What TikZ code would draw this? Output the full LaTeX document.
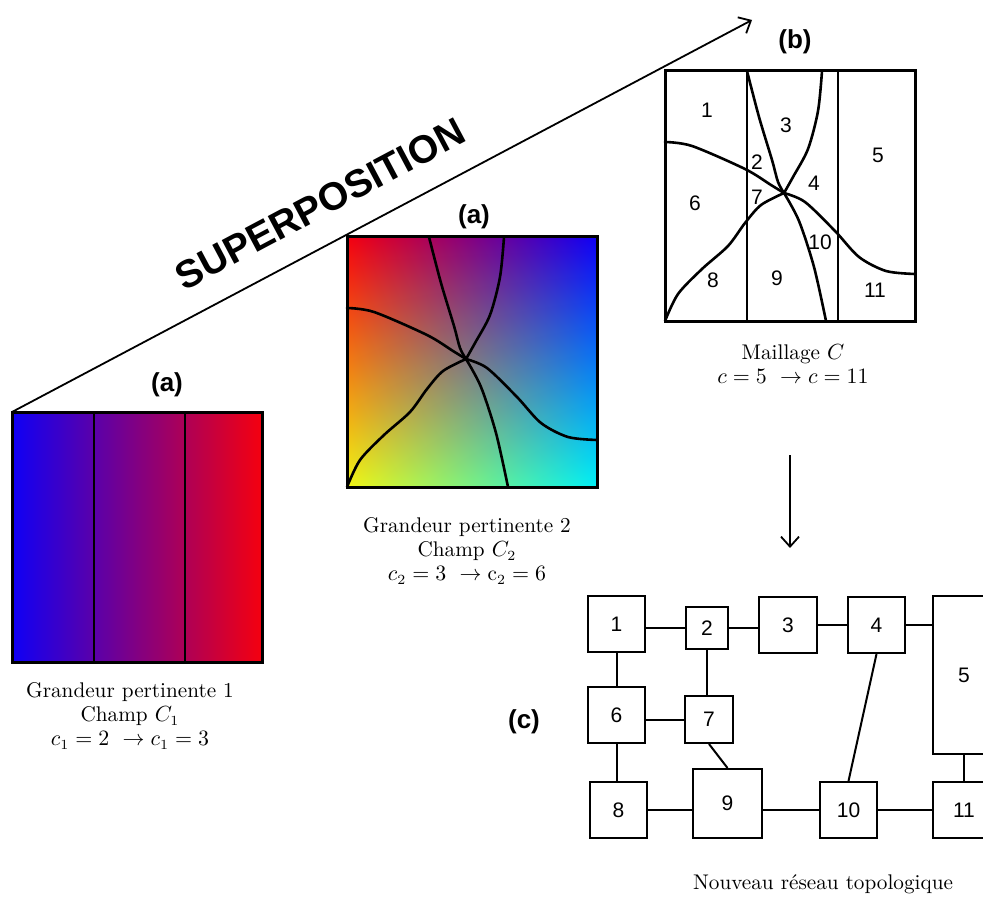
\documentclass[tikz,border=0pt]{standalone}
\usepackage{fontspec}
\newfontfamily\arial{Liberation Sans}
\usetikzlibrary{arrows.meta,calc,shadings}
\definecolor{fbleu}{RGB}{15,0,245}
\definecolor{frouge}{RGB}{245,0,15}
\definecolor{fjaune}{RGB}{240,245,20}
\definecolor{fcyan}{RGB}{0,240,245}
\tikzset{
  champ/.style={draw,line width=1.5pt,minimum width=125pt,minimum height=125pt,
                inner sep=0pt,outer sep=0pt},
  fissure/.style={line width=1.3pt,line join=round,line cap=round},
  bande/.style={line width=1.2pt},
  etiq/.style={font=\arial\bfseries\fontsize{13}{15}\selectfont,inner sep=1pt},
  num/.style={font=\arial\fontsize{10.5}{12}\selectfont,inner sep=1pt},
  legende/.style={align=center,font=\fontsize{10.6}{12}\selectfont,inner sep=1pt},
  cellule/.style={draw,line width=1pt,inner sep=0pt,
                  font=\arial\fontsize{10.5}{12}\selectfont},
  lien/.style={line width=1pt},
  fleche/.style={-{Straight Barb[length=5pt,width=9pt]},line width=0.9pt},
}
% fissures du champ 2 (repere local du carre, 250 x 250)
\newcommand{\fissures}{%
  \draw[fissure] plot[smooth] coordinates {(82,0) (94,46) (107,89) (113,111) (119,122)};
  \draw[fissure] plot[smooth] coordinates {(157,0) (153,40) (143,78) (128,106) (119,122)};
  \draw[fissure] plot[smooth] coordinates {(0,71) (27,75) (80,98) (106,114) (119,122)};
  \draw[fissure] plot[smooth] coordinates {(119,122) (140,131) (170,160) (194,186) (221,200) (250,203)};
  \draw[fissure] plot[smooth] coordinates {(119,122) (96,134) (80,152) (63,175) (37,198) (13,223) (0,250)};
  \draw[fissure] plot[smooth] coordinates {(119,122) (134,150) (149,196) (161,250)};
}
\newcommand{\bandes}{\draw[bande] (82,0) -- (82,250) (173,0) -- (173,250);}

\begin{document}
\begin{tikzpicture}[x=0.5pt,y=-0.5pt]
\useasboundingbox (0,0) rectangle (983,898);
\clip (0,0) rectangle (983,898);

% champ 1
\node[champ,left color=fbleu,right color=frouge] (champA) at (137,537) {};
\begin{scope}[shift={(champA.north west)}]
  \bandes
\end{scope}
\draw[champ,fill=none] (champA.north west) rectangle (champA.south east);
\node[etiq] (etA) at (167,385) {(a)};
\node[legende] (legA) at (130,716) {Grandeur pertinente 1\\Champ $C_1$\\$c_1 = 2\ \rightarrow c_1 = 3$};

% champ 2
\node[champ,shading=bilinear interpolation,upper left=frouge,upper right=fbleu,
      lower left=fjaune,lower right=fcyan] (champB) at (472,362) {};
\begin{scope}[shift={(champB.north west)}]
  \fissures
\end{scope}
\draw[champ,fill=none] (champB.north west) rectangle (champB.south east);
\node[etiq] (etB) at (474,217) {(a)};
\node[legende] (legB) at (467,551) {Grandeur pertinente 2\\Champ $C_2$\\$c_2 = 3\ \rightarrow \mathrm{c}_2 = 6$};

% maillage
\node[champ,fill=white] (maillage) at (790,196) {};
\begin{scope}[shift={(maillage.north west)}]
  \bandes
  \fissures
\end{scope}
\node[etiq] (etC) at (795,42) {(b)};
\node[num] (m1) at (707,110) {1};
\node[num] (m2) at (757,162) {2};
\node[num] (m3) at (786,125) {3};
\node[num] (m4) at (814,183) {4};
\node[num] (m5) at (878,155) {5};
\node[num] (m6) at (695,203) {6};
\node[num] (m7) at (757,197) {7};
\node[num] (m8) at (713,280) {8};
\node[num] (m9) at (777,278) {9};
\node[num] (m10) at (820,242) {10};
\node[num] (m11) at (875,290) {11};
\node[legende] (legC) at (793,364) {Maillage $C$\\$c = 5\ \rightarrow c = 11$};

% superposition
\coordinate (pointe) at (752,20);
\draw[fleche] (champA.north west) -- (pointe);
\node[font=\arial\bfseries\fontsize{19.5}{22}\selectfont,rotate=28,inner sep=0pt] (titre) at (320,204) {SUPERPOSITION};

\coordinate (haut) at (790,455);
\coordinate (bas) at (790,548);
\draw[fleche] (haut) -- (bas);

% reseau
\node[cellule,minimum width=28.5pt,minimum height=28pt] (n1) at (616.5,624) {1};
\node[cellule,minimum width=21pt,minimum height=21pt] (n2) at (707,628) {2};
\node[cellule,minimum width=29pt,minimum height=28pt] (n3) at (788,625) {3};
\node[cellule,minimum width=28.5pt,minimum height=28pt] (n4) at (876.5,625) {4};
\node[cellule,minimum width=31pt,minimum height=79pt] (n5) at (964,675) {5};
\node[cellule,minimum width=28.5pt,minimum height=28pt] (n6) at (616.5,715) {6};
\node[cellule,minimum width=24pt,minimum height=23.5pt] (n7) at (709,719.5) {7};
\node[cellule,minimum width=28.5pt,minimum height=28pt] (n8) at (618.5,810) {8};
\node[cellule,minimum width=34.5pt,minimum height=34.5pt] (n9) at (727.5,803.5) {9};
\node[cellule,minimum width=28.5pt,minimum height=28pt] (n10) at (848.5,810) {10};
\node[cellule,minimum width=31pt,minimum height=28pt] (n11) at (964,810) {11};

\draw[lien] (n1.east |- n2) -- (n2);
\draw[lien] (n2) -- (n2 -| n3.west);
\draw[lien] (n3) -- (n4);
\draw[lien] (n4) -- (n4 -| n5.west);
\draw[lien] (n1) -- (n6);
\draw[lien] (n2) -- (n2 |- n7.north);
\draw[lien] (n6.east |- n7) -- (n7);
\draw[lien] (n6) -- (n6 |- n8.north);
\draw[lien] (n7.south) -- (n9.north);
\draw[lien] (n8) -- (n8 -| n9.west);
\draw[lien] (n9.east |- n10) -- (n10);
\draw[lien] (n10) -- (n11);
\draw[lien] (n4.south) -- (n10.north);
\draw[lien] (n5) -- (n11);

\node[etiq] (etD) at (524,722) {(c)};
\node[legende] (legD) at (823,884) {Nouveau réseau topologique};

\end{tikzpicture}
\end{document}
